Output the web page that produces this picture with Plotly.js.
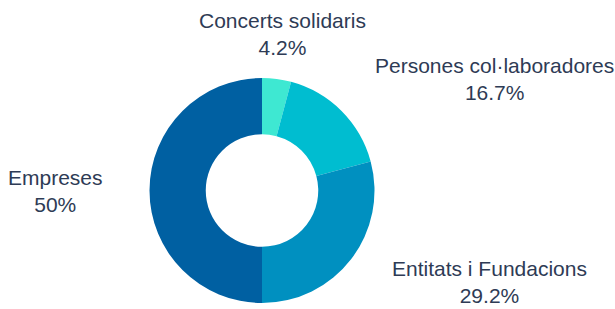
<!DOCTYPE html>
<html><head><meta charset="utf-8">
<script src="https://cdn.plot.ly/plotly-3.0.1.min.js"></script>
<style>html,body{margin:0;padding:0;background:#fff}#c{width:615px;height:309px}</style>
</head><body><div id="c"></div>
<script>
const labels = ["Concerts solidaris", "Persones col·laboradores", "Entitats i Fundacions", "Empreses"];
const values = [1, 4, 7, 12];
const colors = ["#3ee8d2", "#00bdd0", "#0090c0", "#0060a2"];

const W = 615, H = 309;
const M = {l: 149, r: 240, t: 78, b: 6};
const pw = W - M.l - M.r, ph = H - M.t - M.b;
const cx = M.l + pw / 2, cy = M.t + ph / 2, R = Math.min(pw, ph) / 2;
const labelR = R * 1.4;
const total = values.reduce((a, b) => a + b, 0);
const fmt = v => { const s = (v / total * 100).toFixed(1); return (s.endsWith(".0") ? s.slice(0, -2) : s) + "%"; };

let cum = 0;
const annotations = values.map((v, i) => {
  const mid = (cum + v / 2) / total * 2 * Math.PI; cum += v;
  const s = Math.sin(mid), c = Math.cos(mid);
  let px = cx + labelR * s, py = cy - labelR * c;
  const maxY = H - 27, minY = 28;
  if (py > maxY || py < minY) {
    py = Math.min(maxY, Math.max(minY, py));
    const dy = py - cy;
    px = cx + Math.sign(s) * Math.sqrt(Math.max(0, labelR * labelR - dy * dy));
  }
  const anchor = Math.abs(s) < 0.3 ? "center" : (s > 0 ? "left" : "right");
  return {
    xref: "paper", yref: "paper",
    x: (px - M.l) / pw, y: (H - M.b - py) / ph,
    xanchor: anchor, yanchor: "middle", align: "center", showarrow: false,
    text: labels[i] + "<br>" + fmt(v),
    font: {family: "Liberation Sans, Arial, sans-serif", size: 21, color: "#2e3b55"}
  };
});

Plotly.newPlot("c", [{
  type: "pie", labels: labels, values: values, hole: 0.5, sort: false, direction: "clockwise",
  rotation: 0, textinfo: "none",
  marker: {colors: colors, line: {width: 0}},
  showlegend: false, hoverinfo: "none"
}], {
  width: W, height: H, margin: M,
  paper_bgcolor: "#fff", showlegend: false, annotations: annotations
}, {displayModeBar: false, staticPlot: true});
</script></body></html>
